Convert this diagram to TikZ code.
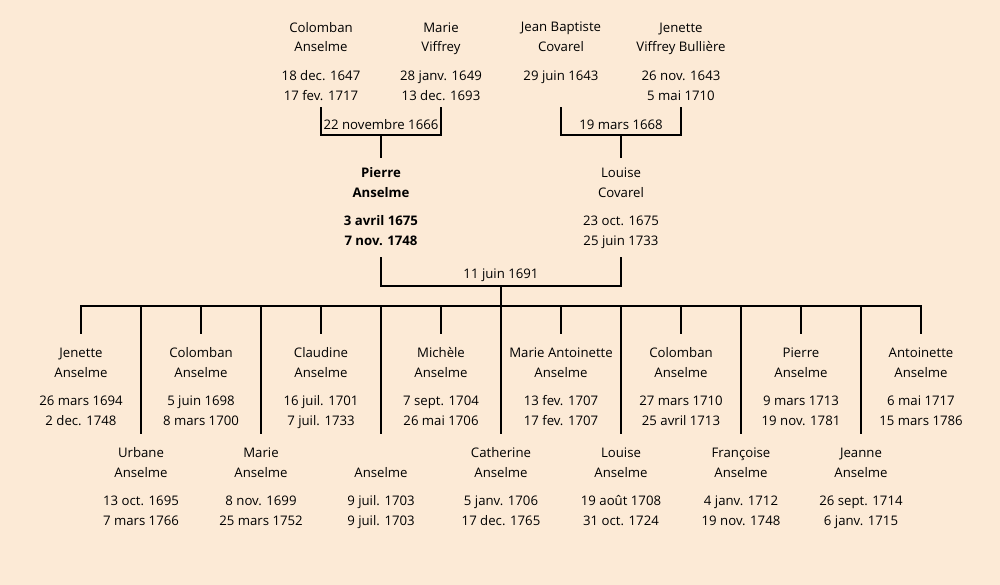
\documentclass[tikz,border=0pt]{standalone}
\usepackage{fontspec}
\setmainfont{Open Sans}
\definecolor{bgpeach}{RGB}{252,234,214}
\begin{document}
\begin{tikzpicture}[x=0.75pt,y=-0.75pt,
  person/.style={anchor=base, align=center, inner sep=0pt, font=\fontsize{9.9}{15}\selectfont},
  bold/.style={font=\fontsize{9.9}{15}\selectfont\bfseries},
  wed/.style={anchor=center, inner sep=0pt, font=\fontsize{9.9}{11}\selectfont},
  tree/.style={line width=1.5pt, line cap=rect}]
\fill[bgpeach] (0,0) rectangle (1000,585);
\useasboundingbox (0,0) rectangle (1000,585);

% grandparents (anchored at the baseline of the last line)
\node[person] (cA) at (321,100) {Colomban\\Anselme\\[6pt]18 dec. 1647\\17 fev. 1717};
\node[person] (mV) at (441,100) {Marie\\Viffrey\\[6pt]28 janv. 1649\\13 dec. 1693};
\node[person] (jbC) at (561,80) {Jean Baptiste\\Covarel\\[6pt]29 juin 1643};
\node[person] (jVB) at (681,100) {Jenette\\Viffrey Bullière\\[6pt]26 nov. 1643\\5 mai 1710};
\node[wed] (w1) at (381,125) {22 novembre 1666};
\node[wed] (w2) at (621,125) {19 mars 1668};

% parents
\node[person,bold] (pA) at (381,245) {Pierre\\Anselme\\[6pt]3 avril 1675\\7 nov. 1748};
\node[person] (lC) at (621,245) {Louise\\Covarel\\[6pt]23 oct. 1675\\25 juin 1733};
\node[wed] (w3) at (501,275) {11 juin 1691};

% children, upper row
\node[person] (k1) at (81,425) {Jenette\\Anselme\\[6pt]26 mars 1694\\2 dec. 1748};
\node[person] (k3) at (201,425) {Colomban\\Anselme\\[6pt]5 juin 1698\\8 mars 1700};
\node[person] (k5) at (321,425) {Claudine\\Anselme\\[6pt]16 juil. 1701\\7 juil. 1733};
\node[person] (k7) at (441,425) {Michèle\\Anselme\\[6pt]7 sept. 1704\\26 mai 1706};
\node[person] (k9) at (561,425) {Marie Antoinette\\Anselme\\[6pt]13 fev. 1707\\17 fev. 1707};
\node[person] (k11) at (681,425) {Colomban\\Anselme\\[6pt]27 mars 1710\\25 avril 1713};
\node[person] (k13) at (801,425) {Pierre\\Anselme\\[6pt]9 mars 1713\\19 nov. 1781};
\node[person] (k15) at (921,425) {Antoinette\\Anselme\\[6pt]6 mai 1717\\15 mars 1786};

% children, lower row
\node[person] (k2) at (141,525) {Urbane\\Anselme\\[6pt]13 oct. 1695\\7 mars 1766};
\node[person] (k4) at (261,525) {Marie\\Anselme\\[6pt]8 nov. 1699\\25 mars 1752};
\node[person] (k6) at (381,525) {\mbox{}\\Anselme\\[6pt]9 juil. 1703\\9 juil. 1703};
\node[person] (k8) at (501,525) {Catherine\\Anselme\\[6pt]5 janv. 1706\\17 dec. 1765};
\node[person] (k10) at (621,525) {Louise\\Anselme\\[6pt]19 août 1708\\31 oct. 1724};
\node[person] (k12) at (741,525) {Françoise\\Anselme\\[6pt]4 janv. 1712\\19 nov. 1748};
\node[person] (k14) at (861,525) {Jeanne\\Anselme\\[6pt]26 sept. 1714\\6 janv. 1715};

% helper coordinates
\coordinate (gtop) at (0,108);
\coordinate (j1) at (381,135);
\coordinate (j2) at (621,135);
\coordinate (gdrop) at (0,157);
\coordinate (ptop) at (0,258);
\coordinate (j3) at (501,286);
\coordinate (bus) at (501,306);
\coordinate (shortend) at (0,333);
\coordinate (longend) at (0,433);

% connectors
\draw[tree] (cA |- gtop) |- (j1) -| (mV |- gtop);
\draw[tree] (j1) -- (pA |- gdrop);
\draw[tree] (jbC |- gtop) |- (j2) -| (jVB |- gtop);
\draw[tree] (j2) -- (lC |- gdrop);
\draw[tree] (pA |- ptop) |- (j3) -| (lC |- ptop);
\draw[tree] (j3) -- (bus);
\draw[tree] (k1 |- bus) -- (k15 |- bus);
\foreach \k in {k1,k3,k5,k7,k9,k11,k13,k15} {\draw[tree] (\k |- bus) -- (\k |- shortend);}
\foreach \k in {k2,k4,k6,k8,k10,k12,k14} {\draw[tree] (\k |- bus) -- (\k |- longend);}
\end{tikzpicture}
\end{document}
